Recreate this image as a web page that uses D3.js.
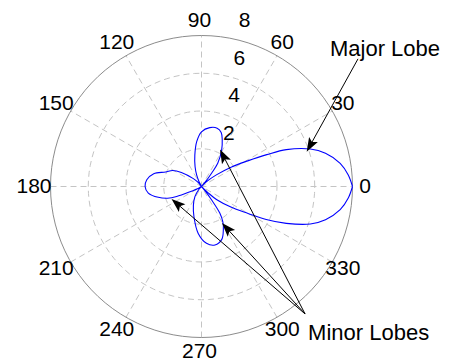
<!DOCTYPE html>
<html><head><meta charset="utf-8">
<script src="https://cdn.jsdelivr.net/npm/d3@7"></script>
<style>
html,body{margin:0;padding:0;background:#fff;}
svg{display:block;font-family:Arial,"Liberation Sans",Helvetica,sans-serif;}
</style>
</head><body>
<svg id="chart" width="452" height="362"></svg>
<script>
// ---- data (angle in degrees, radius) ----
const thetaDeg = [0, 4.5, 9.5, 15, 19, 23.5, 26, 29, 33, 38, 42, 46, 48,
  50, 53, 55, 61, 66, 70, 75, 82, 90, 96, 102, 108, 113, 118, 124,
  130, 136, 145, 151, 158, 165, 173, 180, 187, 194, 199, 202, 204.5, 210, 218,
  228, 237, 247, 256, 266, 275, 283, 291, 297, 301, 304.5, 307, 310, 312,
  314, 316, 319, 325, 330, 333, 336.5, 341, 345, 350.5, 355.5, 360];
const rho = [8.0, 7.8, 7.45, 6.8, 6.1, 4.9, 3.85, 2.8, 1.9, 1.0, 0.5, 0.12, 0,
  0.3, 0.9, 1.5, 2.2, 2.7, 3.05, 3.2, 3.15, 2.9, 2.4, 1.7, 1.1, 0.65, 0.25, 0,
  0.3, 0.6, 1.3, 1.75, 2.05, 2.62, 2.92, 2.99, 2.84, 2.36, 1.9, 1.42, 0.67, 0.15, 0,
  0.2, 0.64, 1.1, 1.65, 2.49, 3.02, 3.18, 3.0, 2.55, 2.2, 1.71, 0.88, 0.3, 0,
  0.2, 0.45, 1.05, 1.9, 2.85, 3.85, 4.9, 6.1, 6.8, 7.45, 7.8, 8.0];

const radialTicks = [2, 4, 6, 8];
const angleTicks = [0, 30, 60, 90, 120, 150, 180, 210, 240, 270, 300, 330];

// annotations in data space: [angle deg, radius]
const majorLabel = "Major Lobe";
const majorTail = [39.2, 10.7];
const majorTip = [18.3, 5.87];
const minorLabel = "Minor Lobes";
const minorTail = [309.1, 8.7];
const minorTips = [[63.4, 2.19], [299.3, 2.22], [202.6, 1.72]];

// ---- layout ----
const cx = 201.5, cy = 186.5, R = 151, rMax = 8;
const svg = d3.select("#chart");
const r = d3.scaleLinear().domain([0, rMax]).range([0, R]);
const rad = d => d * Math.PI / 180;
const pt = (a, v) => [cx + r(v) * Math.cos(rad(a)), cy - r(v) * Math.sin(rad(a))];

const g = svg.append("g");

// polygonal rings like MATLAB (101 points)
const circ = d3.range(0, 101).map(i => i * 2 * Math.PI / 100);
const ringPath = v => {
  const p = d3.path();
  circ.forEach((t, i) => {
    const x = cx + r(v) * Math.cos(t), y = cy - r(v) * Math.sin(t);
    if (i === 0) p.moveTo(x, y); else p.lineTo(x, y);
  });
  p.closePath();
  return p.toString();
};

// dashed rings
g.selectAll("path.ring").data(radialTicks.filter(v => v < rMax)).enter()
  .append("path").attr("class", "ring").attr("d", ringPath)
  .attr("fill", "none").attr("stroke", "#c4c4c4").attr("stroke-width", 1)
  .attr("stroke-dasharray", "6,4");

// spokes
g.selectAll("line.spoke").data(angleTicks.filter(a => a < 180)).enter()
  .append("line").attr("class", "spoke")
  .attr("x1", a => pt(a + 180, rMax)[0]).attr("y1", a => pt(a + 180, rMax)[1])
  .attr("x2", a => pt(a, rMax)[0]).attr("y2", a => pt(a, rMax)[1])
  .attr("stroke", "#c4c4c4").attr("stroke-width", 1).attr("stroke-dasharray", "6,4");

// outer ring solid
g.append("path").attr("d", ringPath(rMax)).attr("fill", "none")
  .attr("stroke", "#8c8c8c").attr("stroke-width", 1);

// radial tick labels
g.selectAll("text.rt").data(radialTicks).enter().append("text").attr("class", "rt")
  .attr("x", v => pt(82, v)[0] + 22).attr("y", v => pt(82, v)[1] - 17)
  .attr("text-anchor", "middle").attr("dominant-baseline", "central")
  .attr("font-size", 21).attr("fill", "#000").text(v => v);

// angle labels
g.selectAll("text.at").data(angleTicks).enter().append("text").attr("class", "at")
  .attr("x", a => cx - 2 + 1.096 * R * Math.cos(rad(a)))
  .attr("y", a => cy - 1.5 - 1.096 * R * Math.sin(rad(a)))
  .attr("text-anchor", "middle").attr("dominant-baseline", "central")
  .attr("font-size", 21).attr("fill", "#000").text(a => a);

// data curve
const line = d3.lineRadial()
  .angle((d, i) => Math.PI / 2 - rad(thetaDeg[i]))
  .radius((d, i) => r(rho[i]))
  .curve(d3.curveCatmullRom.alpha(0.5));
g.append("path").datum(rho).attr("transform", `translate(${cx},${cy})`)
  .attr("d", line).attr("fill", "none").attr("stroke", "#0000ff").attr("stroke-width", 1.1);

// arrows
function arrow(tail, tip) {
  const [x1, y1] = pt(tail[0], tail[1]);
  const [x2, y2] = pt(tip[0], tip[1]);
  const ang = Math.atan2(y2 - y1, x2 - x1);
  const L = 14, W = 5, N = 11;
  const ux = Math.cos(ang), uy = Math.sin(ang);
  const bx = x2 - ux * L, by = y2 - uy * L;
  g.append("line").attr("x1", x1).attr("y1", y1).attr("x2", x2 - ux * 8).attr("y2", y2 - uy * 8)
    .attr("stroke", "#000").attr("stroke-width", 1);
  const p = [[x2, y2], [bx - uy * W, by + ux * W], [x2 - ux * N, y2 - uy * N], [bx + uy * W, by - ux * W]];
  g.append("path").attr("d", "M" + p.map(q => q.join(",")).join("L") + "Z").attr("fill", "#000");
}
arrow(majorTail, majorTip);
minorTips.forEach(t => arrow(minorTail, t));

const mt = pt(majorTail[0], majorTail[1]);
g.append("text").attr("x", mt[0] - 28).attr("y", mt[1] - 3).attr("font-size", 22)
  .attr("fill", "#000").text(majorLabel);
const nt = pt(minorTail[0], minorTail[1]);
g.append("text").attr("x", nt[0] + 3).attr("y", nt[1] + 26).attr("font-size", 22)
  .attr("fill", "#000").text(minorLabel);
</script>
</body></html>
